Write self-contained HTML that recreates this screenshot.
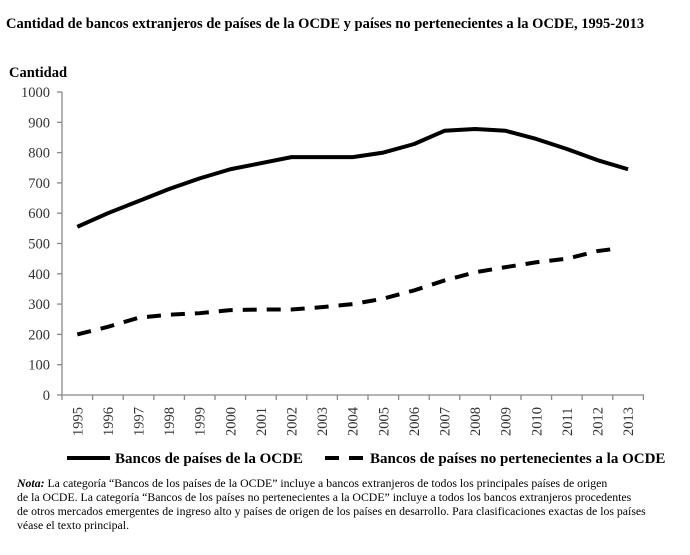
<!DOCTYPE html>
<html><head><meta charset="utf-8"><style>
body{margin:0;background:#fff;width:690px;height:550px;overflow:hidden;font-family:"Liberation Serif",serif}
</style></head><body>
<svg width="690" height="550" xmlns="http://www.w3.org/2000/svg" font-family="Liberation Serif, serif">
<text x="6" y="28" font-size="14.5" font-weight="bold">Cantidad de bancos extranjeros de países de la OCDE y países no pertenecientes a la OCDE, 1995-2013</text>
<text x="9" y="77" font-size="14.5" font-weight="bold">Cantidad</text>
<g stroke="#888" stroke-width="1.3" fill="none">
<line x1="62" y1="92" x2="62" y2="395"/>
<line x1="62" y1="395" x2="644" y2="395"/>
</g>
<g id="yt" font-size="14.5" fill="#333" text-anchor="end"></g>
<g id="xt" font-size="14.5" fill="#333"></g>
<g id="ticks" stroke="#888" stroke-width="1.3"></g>
<polyline id="l1" fill="none" stroke="#000" stroke-width="4" stroke-linejoin="round"/>
<polyline id="l2" fill="none" stroke="#000" stroke-width="4" stroke-dasharray="14,10"/>
<line x1="67" y1="458" x2="110" y2="458" stroke="#000" stroke-width="4"/>
<text x="115" y="463" font-size="15" font-weight="bold">Bancos de países de la OCDE</text>
<line x1="325" y1="458" x2="368" y2="458" stroke="#000" stroke-width="4" stroke-dasharray="14,10"/>
<text x="370" y="463" font-size="15" font-weight="bold">Bancos de países no pertenecientes a la OCDE</text>
<g font-size="11.8">
<text x="17" y="487"><tspan font-style="italic" font-weight="bold">Nota:</tspan> La categoría “Bancos de los países de la OCDE” incluye a bancos extranjeros de todos los principales países de origen</text>
<text x="17" y="501">de la OCDE. La categoría “Bancos de los países no pertenecientes a la OCDE” incluye a todos los bancos extranjeros procedentes</text>
<text x="17" y="515">de otros mercados emergentes de ingreso alto y países de origen de los países en desarrollo. Para clasificaciones exactas de los países</text>
<text x="17" y="529">véase el texto principal.</text>
</g>
</svg>
<script>
var ns="http://www.w3.org/2000/svg";
function Y(v){return 395-v*0.303}
function X(i){return 62+15.3+30.6*i}
var yt=document.getElementById("yt"),xt=document.getElementById("xt"),tk=document.getElementById("ticks");
for(var v=0;v<=1000;v+=100){var t=document.createElementNS(ns,"text");t.setAttribute("x",50);t.setAttribute("y",Y(v)+5);t.textContent=v;yt.appendChild(t);
var l=document.createElementNS(ns,"line");l.setAttribute("x1",57);l.setAttribute("x2",62);l.setAttribute("y1",Y(v));l.setAttribute("y2",Y(v));tk.appendChild(l);}
for(var i=0;i<=19;i++){var l=document.createElementNS(ns,"line");var x=62+30.6*i;l.setAttribute("x1",x);l.setAttribute("x2",x);l.setAttribute("y1",395);l.setAttribute("y2",400);tk.appendChild(l);}
for(var i=0;i<19;i++){var t=document.createElementNS(ns,"text");t.setAttribute("transform","translate("+(X(i)+5)+",436) rotate(-90)");t.textContent=1995+i;xt.appendChild(t);}
var a=[555,600,640,680,715,745,765,785,785,785,800,828,872,878,872,845,812,775,745];
var b=[200,225,255,265,270,280,282,282,290,300,318,345,378,405,422,438,450,475,480];
function pts(d,n){var s=[];for(var i=0;i<n;i++)s.push(X(i)+","+Y(d[i]));return s.join(" ")}
document.getElementById("l1").setAttribute("points",pts(a,19));
document.getElementById("l2").setAttribute("points",pts(b,18)+" "+(X(17)+14)+","+Y(481));
</script>
</body></html>
